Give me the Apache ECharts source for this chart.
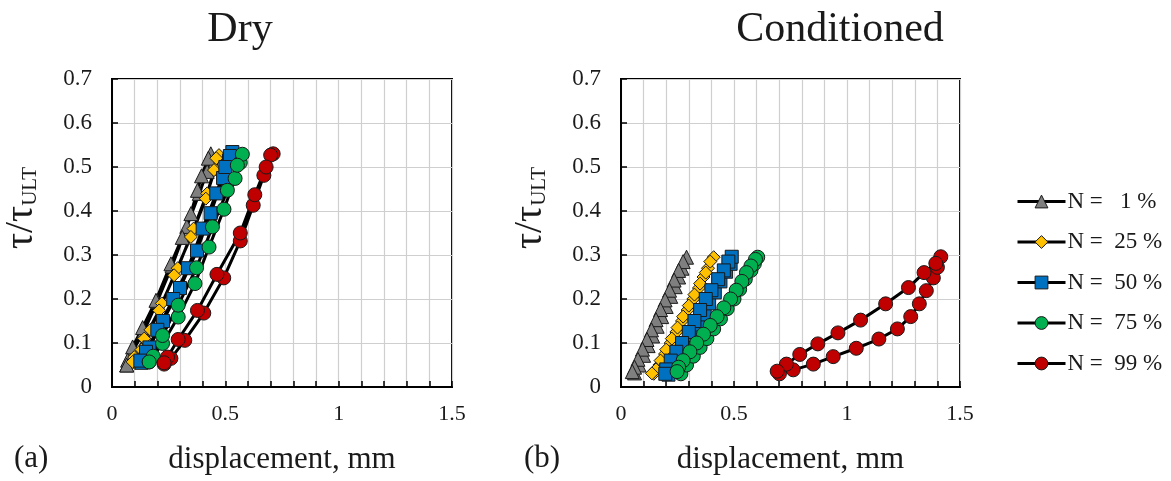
<!DOCTYPE html>
<html>
<head>
<meta charset="utf-8">
<script src="https://cdn.jsdelivr.net/npm/echarts@6/dist/echarts.min.js"></script>
<style>
  html, body { margin: 0; padding: 0; background: #ffffff; }
  #chart { width: 1171px; height: 481px; }
</style>
</head>
<body>
<div id="chart"></div>
<script>
// Legend entries (cycle number as % of fatigue life)
const seriesNames = ['N =   1 %', 'N =  25 %', 'N =  50 %', 'N =  75 %', 'N =  99 %'];

// Axis ranges / ticks
const xTickLabels = [0, 0.5, 1, 1.5];
const yTickLabels = [0, 0.1, 0.2, 0.3, 0.4, 0.5, 0.6, 0.7];

// Dry specimens: [displacement (mm), tau / tau_ULT], one load-unload loop each
const dryN1 = [[0.065,0.050],[0.095,0.085],[0.140,0.125],[0.200,0.195],[0.265,0.275],[0.330,0.365],[0.385,0.440],[0.420,0.490],[0.436,0.530],
               [0.425,0.520],[0.395,0.480],[0.377,0.447],[0.348,0.394],[0.310,0.340],[0.260,0.280],[0.194,0.197],[0.135,0.135],[0.091,0.091],[0.069,0.061],[0.065,0.050]];
const dryN25 = [[0.100,0.055],[0.130,0.085],[0.170,0.130],[0.220,0.190],[0.290,0.270],[0.360,0.360],[0.420,0.440],[0.455,0.495],[0.472,0.527],
                [0.460,0.520],[0.450,0.493],[0.414,0.428],[0.348,0.341],[0.274,0.254],[0.208,0.174],[0.142,0.110],[0.098,0.068],[0.091,0.057]];
const dryN50 = [[0.130,0.055],[0.165,0.090],[0.225,0.150],[0.300,0.225],[0.375,0.310],[0.435,0.395],[0.490,0.475],[0.516,0.515],[0.531,0.534],
                [0.520,0.525],[0.500,0.500],[0.460,0.440],[0.400,0.360],[0.335,0.270],[0.270,0.200],[0.200,0.130],[0.150,0.080],[0.125,0.060]];
const dryN75 = [[0.164,0.057],[0.223,0.099],[0.292,0.159],[0.366,0.235],[0.428,0.318],[0.494,0.404],[0.543,0.474],[0.566,0.510],[0.575,0.529],
                [0.553,0.504],[0.509,0.447],[0.443,0.364],[0.373,0.271],[0.292,0.186],[0.223,0.117],[0.182,0.070],[0.164,0.057]];
const dryN99 = [[0.230,0.052],[0.260,0.065],[0.321,0.106],[0.405,0.168],[0.493,0.248],[0.566,0.332],[0.623,0.413],[0.670,0.481],[0.711,0.530],
                [0.700,0.527],[0.680,0.500],[0.630,0.437],[0.566,0.350],[0.463,0.256],[0.377,0.174],[0.292,0.108],[0.245,0.068],[0.230,0.055]];

// Conditioned specimens
const condN1 = [[0.060,0.032],[0.080,0.050],[0.100,0.072],[0.120,0.094],[0.140,0.116],[0.160,0.138],[0.180,0.160],[0.200,0.183],[0.220,0.206],[0.240,0.228],[0.255,0.250],[0.270,0.270],[0.290,0.295],
                [0.275,0.285],[0.255,0.265],[0.235,0.243],[0.215,0.220],[0.195,0.198],[0.175,0.176],[0.155,0.153],[0.135,0.130],[0.115,0.108],[0.095,0.086],[0.075,0.063],[0.060,0.045],[0.050,0.035]];
const condN25 = [[0.145,0.030],[0.170,0.050],[0.195,0.075],[0.220,0.100],[0.245,0.125],[0.270,0.150],[0.295,0.175],[0.320,0.200],[0.345,0.225],[0.365,0.250],[0.385,0.270],[0.410,0.295],
                 [0.395,0.285],[0.375,0.260],[0.350,0.235],[0.325,0.210],[0.300,0.185],[0.275,0.160],[0.250,0.135],[0.225,0.110],[0.200,0.085],[0.175,0.060],[0.155,0.040],[0.137,0.031]];
const condN50 = [[0.210,0.028],[0.235,0.050],[0.260,0.072],[0.290,0.095],[0.315,0.118],[0.340,0.142],[0.370,0.165],[0.390,0.190],[0.415,0.215],[0.440,0.240],[0.465,0.262],[0.485,0.280],[0.490,0.296],
                 [0.475,0.285],[0.455,0.265],[0.430,0.245],[0.400,0.220],[0.375,0.200],[0.350,0.175],[0.325,0.150],[0.300,0.125],[0.270,0.100],[0.245,0.080],[0.220,0.060],[0.200,0.040],[0.196,0.030]];
const condN75 = [[0.265,0.030],[0.290,0.050],[0.320,0.070],[0.350,0.090],[0.380,0.110],[0.410,0.132],[0.440,0.155],[0.470,0.178],[0.500,0.200],[0.525,0.222],[0.550,0.245],[0.575,0.265],[0.590,0.280],[0.605,0.295],
                 [0.595,0.290],[0.575,0.275],[0.555,0.260],[0.535,0.240],[0.510,0.220],[0.485,0.200],[0.455,0.180],[0.425,0.160],[0.395,0.140],[0.365,0.120],[0.335,0.100],[0.305,0.080],[0.275,0.060],[0.255,0.045],[0.248,0.035]];
const condN99 = [[0.701,0.030],[0.762,0.039],[0.851,0.052],[0.939,0.069],[1.041,0.088],[1.141,0.109],[1.223,0.132],[1.282,0.160],[1.320,0.189],[1.351,0.219],[1.382,0.248],[1.400,0.272],[1.415,0.296],
                 [1.393,0.281],[1.341,0.260],[1.272,0.226],[1.171,0.189],[1.060,0.152],[0.960,0.123],[0.871,0.098],[0.791,0.074],[0.732,0.052],[0.691,0.036]];

const dryData = [dryN1, dryN25, dryN50, dryN75, dryN99];
const condData = [condN1, condN25, condN50, condN75, condN99];

const markerColors = ['#7f7f7f', '#ffc000', '#0070c0', '#00b050', '#c00000'];
const markerShapes = ['triangle', 'diamond', 'rect', 'circle', 'circle'];
const markerSizes = [14, 13, 13, 14, 14];

const serif = '"Liberation Serif", "Times New Roman", "DejaVu Serif", serif';
const textColor = '#1a1a1a';

function xAxisFor(gridIndex) {
  return {
    type: 'value', gridIndex, min: 0, max: 1.5, interval: 0.1,
    name: 'displacement, mm', nameLocation: 'middle', nameGap: 57,
    nameTextStyle: { fontFamily: serif, fontSize: 31, color: textColor },
    axisLine: { show: true, onZero: false, lineStyle: { color: '#000', width: 2 } },
    axisTick: { show: true, inside: true, length: 6, lineStyle: { color: '#000', width: 1.5 } },
    axisLabel: {
      fontFamily: serif, fontSize: 22, color: textColor, margin: 16,
      formatter: v => {
        const hit = xTickLabels.find(t => Math.abs(t - v) < 1e-6);
        return hit === undefined ? '' : String(hit);
      }
    },
    splitLine: { show: true, lineStyle: { color: '#cfcfcf', width: 1.2 } }
  };
}

function yAxisFor(gridIndex) {
  return {
    type: 'value', gridIndex, min: 0, max: 0.7, interval: 0.1,
    name: '{t|τ/τ}{s|ULT}', nameLocation: 'middle', nameRotate: 90, nameGap: 71,
    nameTextStyle: {
      fontFamily: serif, color: textColor, padding: [0, 0, 0, 50],
      rich: {
        t: { fontFamily: serif, fontSize: 40, color: textColor },
        s: { fontFamily: serif, fontSize: 21, color: textColor, verticalAlign: 'bottom' }
      }
    },
    axisLine: { show: true, onZero: false, lineStyle: { color: '#000', width: 2 } },
    axisTick: { show: true, inside: true, length: 6, lineStyle: { color: '#000', width: 1.5 } },
    axisLabel: {
      fontFamily: serif, fontSize: 23, color: textColor, margin: 20,
      formatter: v => {
        const hit = yTickLabels.find(t => Math.abs(t - v) < 1e-6);
        return hit === undefined ? '' : (hit === 0 ? '0' : hit.toFixed(1));
      }
    },
    splitLine: { show: true, lineStyle: { color: '#cfcfcf', width: 1.2 } }
  };
}

function makeSeries(dataSets, axisIndex) {
  return dataSets.map((d, i) => ({
    name: seriesNames[i],
    type: 'line',
    xAxisIndex: axisIndex, yAxisIndex: axisIndex,
    data: d,
    symbol: markerShapes[i],
    symbolSize: markerSizes[i],
    showAllSymbol: true,
    lineStyle: { color: '#000', width: 3 },
    itemStyle: { color: markerColors[i], borderColor: '#1a1a1a', borderWidth: 1 },
    emphasis: { disabled: true },
    animation: false
  }));
}

const chart = echarts.init(document.getElementById('chart'), null, { renderer: 'canvas' });

chart.setOption({
  backgroundColor: '#ffffff',
  animation: false,
  grid: [
    { left: 111, top: 79, width: 341, height: 308, show: true, borderColor: '#000', borderWidth: 2, backgroundColor: 'transparent' },
    { left: 621, top: 79, width: 339, height: 308, show: true, borderColor: '#000', borderWidth: 2, backgroundColor: 'transparent' }
  ],
  xAxis: [xAxisFor(0), xAxisFor(1)],
  yAxis: [yAxisFor(0), yAxisFor(1)],
  legend: {
    orient: 'vertical',
    left: 1011, top: 185,
    itemWidth: 48, itemHeight: 16, itemGap: 17.5,
    data: seriesNames,
    selectedMode: false,
    itemStyle: { borderColor: '#1a1a1a', borderWidth: 1 },
    lineStyle: { width: 3, color: '#000' },
    textStyle: { fontFamily: serif, fontSize: 23, color: textColor, lineHeight: 23, padding: [0, 0, 0, -3] }
  },
  graphic: [
    { type: 'text', x: 240, y: 30, style: { text: 'Dry', font: '42px ' + serif, fill: textColor, textAlign: 'center', textVerticalAlign: 'middle' } },
    { type: 'text', x: 840, y: 30, style: { text: 'Conditioned', font: '42px ' + serif, fill: textColor, textAlign: 'center', textVerticalAlign: 'middle' } },
    { type: 'text', x: 14, y: 459, style: { text: '(a)', font: '31px ' + serif, fill: textColor, textAlign: 'left', textVerticalAlign: 'middle' } },
    { type: 'text', x: 524, y: 459, style: { text: '(b)', font: '31px ' + serif, fill: textColor, textAlign: 'left', textVerticalAlign: 'middle' } }
  ],
  series: makeSeries(dryData, 0).concat(makeSeries(condData, 1))
});
</script>
</body>
</html>
